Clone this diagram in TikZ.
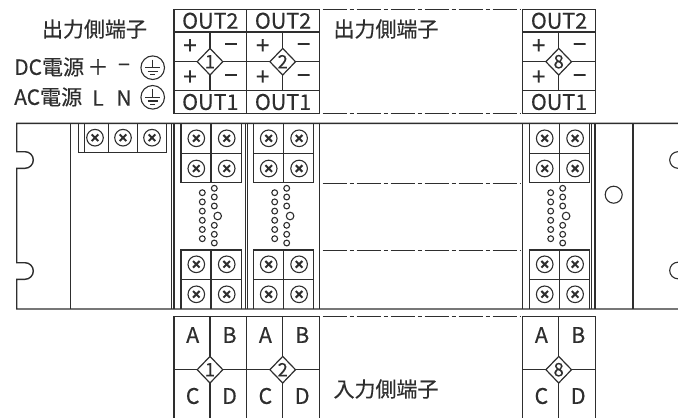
\documentclass[tikz,border=0pt]{standalone}
\usepackage{fontspec}
\setmainfont{Noto Sans CJK JP}[FakeBold=0.35]
\definecolor{ink}{HTML}{2E2E2E}
\tikzset{
  ln/.style={draw=ink,line width=1.4pt},
  thin ln/.style={draw=ink,line width=1.1pt},
  dd/.style={draw=ink,line width=1.3pt,dash pattern=on 24pt off 3pt on 4pt off 3pt},
  lab/.style={inner sep=0pt,text=ink,font=\fontsize{21.5}{21.5}\selectfont},
  head/.style={inner sep=0pt,text=ink,font=\fontsize{21}{21}\selectfont},
  side/.style={inner sep=0pt,text=ink,font=\fontsize{21}{21}\selectfont},
  sign/.style={inner sep=0pt,text=ink,font=\fontsize{24}{24}\selectfont},
  num/.style={inner sep=0pt,text=ink,font=\fontsize{18.5}{18.5}\selectfont},
  diam/.style={draw=ink,fill=white,line width=1.2pt}
}
\newcommand{\mydiamond}[2]{%
  \path[diam] (197.2,#1) -- (210,#1-13.3) -- (222.8,#1) -- (210,#1+13.3) -- cycle;
  \node[num] (n#2) at (210,#1) {#2};}
\newcommand{\outblock}[2]{%
  \begin{scope}[shift={(#1,0)}]
    \draw[ln] (174,9.7) rectangle (246.7,113.3);
    \draw[ln] (174,32) -- (246.7,32) (174,61.7) -- (246.7,61.7) (174,90.7) -- (246.7,90.7);
    \draw[ln] (210,32) -- (210,90.7);
    \mydiamond{61.7}{#2}
    \node[lab] (o2#2) at (210.3,20.8) {OUT2};
    \node[lab] (o1#2) at (210.3,102) {OUT1};
    \node[sign] (pa#2) at (190,46.7) {+};
    \node[sign] (ma#2) at (231,48) {−};
    \node[sign] (pb#2) at (190,77.8) {+};
    \node[sign] (mb#2) at (231,79) {−};
  \end{scope}}
\newcommand{\inblock}[2]{%
  \begin{scope}[shift={(#1,0)}]
    \draw[ln] (174,418) -- (174,316.7) -- (246.7,316.7) -- (246.7,418);
    \draw[ln] (174,369.7) -- (246.7,369.7) (210,316.7) -- (210,418);
    \mydiamond{369.7}{#2}
    \node[lab] (a#2) at (192.7,335) {A};
    \node[lab] (b#2) at (229.5,335) {B};
    \node[lab] (c#2) at (192.7,396) {C};
    \node[lab] (d#2) at (229.5,396) {D};
  \end{scope}}
\newcommand{\screw}[2]{%
  \draw[thin ln] (#1,#2) circle (8.3);
  \draw[draw=ink,line width=2pt] (#1-3.3,#2-3.3) -- (#1+3.3,#2+3.3) (#1-3.3,#2+3.3) -- (#1+3.3,#2-3.3);}
\newcommand{\module}[1]{%
  \begin{scope}[shift={(#1,0)}]
    \draw[ln] (181,123.3) -- (181,182.7) -- (241.3,182.7) -- (241.3,123.3);
    \draw[ln] (181,153.3) -- (241.3,153.3) (211,123.3) -- (211,182.7);
    \draw[ln] (181,309) -- (181,250) -- (241.3,250) -- (241.3,309);
    \draw[ln] (181,279.5) -- (241.3,279.5) (211,250) -- (211,309);
    \screw{196.3}{138.3}\screw{226.7}{138.3}
    \screw{196.3}{168.5}\screw{226.7}{168.5}
    \screw{196.3}{264.3}\screw{226.7}{264.3}
    \screw{196.3}{294.3}\screw{226.7}{294.3}
    \foreach \y in {192.7,201.9,211.1,220.3,229.5,238.7}
      \draw[thin ln] (202.3,\y) circle (2.9);
    \foreach \y in {188.3,197,206,225.3,234.3,243}
      \draw[thin ln] (214.3,\y) circle (2.9);
    \draw[thin ln] (217.7,216) circle (3.8);
  \end{scope}}
\newcommand{\earth}[2]{%
  \draw[thin ln] (#1,#2) circle (11.8);
  \draw[thin ln] (#1,#2-8) -- (#1,#2) (#1-7.5,#2) -- (#1+7.5,#2)
     (#1-5,#2+3.7) -- (#1+5,#2+3.7) (#1-2.5,#2+7.2) -- (#1+2.5,#2+7.2);}
\begin{document}
\begin{tikzpicture}[x=1pt,y=-1pt]
\useasboundingbox (0,0) rectangle (678,418);
% upper texts
\node[head] (h1) at (94.5,29) {出力側端子};
\node[head] (h2) at (386,29) {出力側端子};
\node[head] (h3) at (386,389) {入力側端子};
\node[side,anchor=west] (dc) at (14,67) {DC電源};
\node[side,anchor=west] (ac) at (14,97) {AC電源};
\node[side] (dcp) at (98,67) {＋};
\node[side] (dcm) at (124,68) {−};
\node[side] (acl) at (98,98) {L};
\node[side] (acn) at (124,98) {N};
\earth{152.7}{67.7}
\earth{152.7}{97.3}
% output and input blocks
\outblock{0}{1}
\outblock{72.7}{2}
\outblock{348.7}{8}
\inblock{0}{1}
\inblock{72.7}{2}
\inblock{348.7}{8}
% dash-dot continuation lines
\foreach \y in {9.7,113.3,183.7,250.7,316.7}
  \draw[dd] (322.5,\y) -- (520.5,\y);
% chassis outline
\draw[ln] (678,123.3) -- (16.7,123.3) -- (16.7,151.7) -- (25,151.7)
  arc[start angle=-90,end angle=90,radius=8.3] -- (16.7,168.3) -- (16.7,262.7) -- (25,262.7)
  arc[start angle=-90,end angle=90,radius=8.3] -- (16.7,279.3) -- (16.7,309) -- (678,309);
\draw[ln] (70.7,123.3) -- (70.7,309);
\foreach \x in {171.3,174,245.3,247.7,319.3,522.7,591.7,595,633}
  \draw[ln] (\x,123.3) -- (\x,309);
% power terminal
\draw[ln] (78.3,123.3) -- (78.3,152.7) -- (166.7,152.7) -- (166.7,123.3);
\foreach \x in {84.3,108.3,137.7} \draw[ln] (\x,123.3) -- (\x,152.7);
\screw{95}{137.7}\screw{123}{137.7}\screw{152}{137.7}
% modules
\module{0}
\module{72.4}
\module{348.4}
% front circles
\draw[thin ln] (613.7,194.7) circle (8.5);
\begin{scope}
  \clip (660,140) rectangle (678,290);
  \draw[thin ln] (678,160) circle (8.3);
  \draw[thin ln] (678,270.5) circle (8.3);
\end{scope}
\end{tikzpicture}
\end{document}
